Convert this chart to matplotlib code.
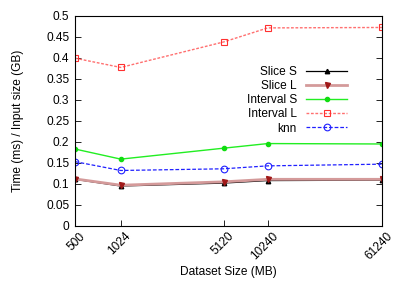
import matplotlib
matplotlib.use("Agg")
import matplotlib.pyplot as plt
import matplotlib.transforms as mtransforms
from matplotlib.ticker import NullLocator, FixedLocator, FixedFormatter

plt.rcParams['font.family'] = ['Liberation Sans', 'DejaVu Sans']

sizes = [500, 1024, 5120, 10240, 61240]
size_labels = ['500', '1024', '5120', '10240', '61240']
slice_s = [0.111, 0.095, 0.102, 0.108, 0.109]
slice_l = [0.112, 0.097, 0.105, 0.111, 0.111]
interval_s = [0.183, 0.159, 0.185, 0.196, 0.195]
interval_l = [0.399, 0.377, 0.4375, 0.471, 0.472]
knn = [0.153, 0.132, 0.136, 0.143, 0.147]
yticks = [0, 0.05, 0.1, 0.15, 0.2, 0.25, 0.3, 0.35, 0.4, 0.45, 0.5]
ytick_labels = ['0', '0.05', '0.1', '0.15', '0.2', '0.25', '0.3', '0.35', '0.4', '0.45', '0.5']

W, H = 407, 285
fig = plt.figure(figsize=(W/100, H/100), dpi=100)
ax = fig.add_axes([75/W, 1-226/H, (382-75)/W, (226-15.7)/H])

fs = 8.6
ax.plot(sizes, slice_s, color='black', lw=0.9, marker='^', ms=3.2, label='Slice S')
ax.plot(sizes, slice_l, color='#d49a9a', lw=2.0, marker='v', ms=3.6, mfc='#a01818', mec='#a01818', label='Slice L')
ax.plot(sizes, interval_s, color='#22ee22', lw=1.0, marker='o', ms=3.0, mfc='#11dd11', mec='#11dd11', label='Interval S')
ax.plot(sizes, interval_l, color='#ff7070', lw=1.0, ls=(0, (2, 1.2)), marker='s', ms=4.6, mfc='none', mec='#ff3030', mew=0.8, label='Interval L')
ax.plot(sizes, knn, color='#2020ff', lw=0.9, ls=(0, (3, 1.5)), marker='o', ms=4.8, mfc='none', mec='#2020ff', mew=0.8, label='knn')

ax.set_xscale('log')
ax.set_xlim(500, 61240)
ax.set_ylim(0, 0.5)
ax.xaxis.set_major_locator(FixedLocator(sizes))
ax.xaxis.set_major_formatter(FixedFormatter(size_labels))
ax.xaxis.set_minor_locator(NullLocator())
ax.set_yticks(yticks)
ax.set_yticklabels(ytick_labels)
ax.tick_params(axis='y', direction='in', right=True, length=4, width=0.6, labelsize=fs, pad=4)
ax.tick_params(axis='x', direction='in', top=False, length=4, width=0.6, labelsize=fs, pad=3)
offset = mtransforms.ScaledTranslation(4/100, 0, fig.dpi_scale_trans)
for lbl in ax.get_xticklabels():
    lbl.set_rotation(45)
    lbl.set_ha('right')
    lbl.set_va('top')
    lbl.set_rotation_mode('anchor')
    lbl.set_transform(lbl.get_transform() + offset)
for sp in ax.spines.values():
    sp.set_linewidth(0.8)

ax.set_xlabel('Dataset Size (MB)', fontsize=fs, labelpad=3)
ax.set_ylabel('Time (ms) / Input size (GB)', fontsize=fs, labelpad=16)

leg = ax.legend(loc='upper right', bbox_to_anchor=(347/W, 1-66/H), bbox_transform=fig.transFigure,
                frameon=False, markerfirst=False, fontsize=fs, handlelength=3.4,
                handletextpad=0.8, labelspacing=0.18, borderpad=0, borderaxespad=0)
for t in leg.get_texts():
    t.set_ha('right')

fig.savefig('out.png', dpi=100)
